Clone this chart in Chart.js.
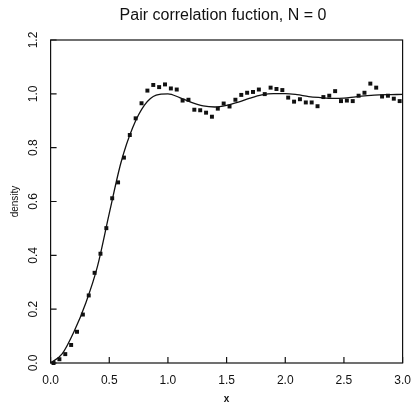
<!DOCTYPE html>
<html>
<head>
<meta charset="utf-8">
<script src="https://cdn.jsdelivr.net/npm/chart.js@4"></script>
<style>
  html, body { margin: 0; padding: 0; background: #fff; }
  #wrap { width: 412px; height: 403px; }
</style>
</head>
<body>
<div id="wrap"><canvas id="PairChart" width="412" height="403"></canvas></div>
<script>
// measured density, one square per 0.05 bin
var binX = [0.025, 0.075, 0.125, 0.175, 0.225, 0.275, 0.325, 0.375, 0.425, 0.475,
  0.525, 0.575, 0.625, 0.675, 0.725, 0.775, 0.825, 0.875, 0.925, 0.975,
  1.025, 1.075, 1.125, 1.175, 1.225, 1.275, 1.325, 1.375, 1.425, 1.475,
  1.525, 1.575, 1.625, 1.675, 1.725, 1.775, 1.825, 1.875, 1.925, 1.975,
  2.025, 2.075, 2.125, 2.175, 2.225, 2.275, 2.325, 2.375, 2.425, 2.475,
  2.525, 2.575, 2.625, 2.675, 2.725, 2.775, 2.825, 2.875, 2.925, 2.975];
var binDensity = [0.0, 0.014, 0.033, 0.067, 0.116, 0.18, 0.251, 0.335, 0.406, 0.501,
  0.612, 0.671, 0.763, 0.847, 0.909, 0.965, 1.012, 1.033, 1.025, 1.035,
  1.02, 1.016, 0.975, 0.978, 0.941, 0.939, 0.93, 0.915, 0.945, 0.964,
  0.953, 0.978, 0.996, 1.004, 1.007, 1.016, 0.999, 1.023, 1.018, 1.014,
  0.986, 0.971, 0.98, 0.968, 0.968, 0.954, 0.988, 0.993, 1.01, 0.973,
  0.975, 0.973, 0.993, 1.004, 1.038, 1.023, 0.99, 0.993, 0.982, 0.973];

// theory curve
var curveX = [0, 0.1, 0.2, 0.3, 0.4, 0.5, 0.6, 0.7, 0.8, 0.9, 1.0,
  1.1, 1.2, 1.3, 1.4, 1.5, 1.6, 1.7, 1.8, 1.9, 2.0,
  2.1, 2.2, 2.3, 2.4, 2.5, 2.6, 2.7, 2.8, 2.9, 3.0];
var curveY = [0, 0.035, 0.117, 0.223, 0.36, 0.556, 0.745, 0.875, 0.958, 0.995, 1.0,
  0.986, 0.968, 0.955, 0.951, 0.957, 0.969, 0.984, 0.996, 1.001, 1.001,
  0.997, 0.99, 0.986, 0.983, 0.984, 0.989, 0.993, 0.996, 0.997, 0.998];

var xTicks = [0, 0.5, 1.0, 1.5, 2.0, 2.5, 3.0];
var yTicks = [0, 0.2, 0.4, 0.6, 0.8, 1.0, 1.2];

var titleText = 'Pair correlation fuction, N = 0';
var fontName = '"Liberation Sans", Arial, Helvetica, sans-serif';
var ink = '#111';

function toPoints(xs, ys)
{
  let pts = [];
  for (let i = 0; i < xs.length; i++) pts.push({x: xs[i], y: ys[i]});
  return pts;
}

// frame, inward ticks and the title
var framePlugin = {
  id: 'frame',
  afterDraw(chart) {
    const ctx = chart.ctx;
    const a = chart.chartArea;
    const sx = chart.scales.x;
    const sy = chart.scales.y;
    ctx.save();
    ctx.strokeStyle = ink;
    ctx.lineWidth = 1.2;
    ctx.strokeRect(a.left, a.top, a.right - a.left, a.bottom - a.top);
    ctx.beginPath();
    xTicks.forEach(v => {
      let px = sx.getPixelForValue(v);
      ctx.moveTo(px, a.bottom);
      ctx.lineTo(px, a.bottom - 6);
    });
    yTicks.forEach(v => {
      let py = sy.getPixelForValue(v);
      ctx.moveTo(a.left, py);
      ctx.lineTo(a.left + 6, py);
    });
    ctx.stroke();
    ctx.fillStyle = ink;
    ctx.font = '16px ' + fontName;
    ctx.textAlign = 'center';
    ctx.textBaseline = 'middle';
    ctx.fillText(titleText, 223, 16);
    ctx.restore();
  }
};

new Chart('PairChart', {
  type: 'scatter',
  data: {
    datasets: [
      {
        data: toPoints(binX, binDensity),
        pointStyle: 'rect',
        pointRadius: 2.8,
        pointBorderWidth: 0,
        backgroundColor: ink,
        borderColor: ink,
        showLine: false,
        clip: false,
        order: 1
      },
      {
        data: toPoints(curveX, curveY),
        showLine: true,
        pointRadius: 0,
        borderColor: ink,
        borderWidth: 1.3,
        cubicInterpolationMode: 'monotone',
        fill: false,
        order: 2
      }
    ]
  },
  options: {
    responsive: false,
    animation: false,
    events: [],
    layout: { padding: { top: 40, left: 0, right: 9.4, bottom: 0 } },
    plugins: {
      legend: { display: false },
      title: { display: false },
      tooltip: { enabled: false }
    },
    scales: {
      x: {
        type: 'linear',
        min: 0,
        max: 3,
        afterBuildTicks: (s) => { s.ticks = xTicks.map(v => ({value: v})); },
        afterFit: (s) => { s.height = 40; s.paddingLeft = 0; s.paddingRight = 0; },
        grid: { display: false, drawTicks: false },
        border: { display: false },
        ticks: {
          padding: 10,
          autoSkip: false,
          maxRotation: 0,
          color: ink,
          font: { family: fontName, size: 12 },
          callback: (v) => Number(v).toFixed(1)
        },
        title: {
          display: true,
          text: 'x',
          color: ink,
          font: { family: fontName, size: 10, weight: 'bold', lineHeight: 0.8 },
          padding: { top: 0, bottom: 0 }
        }
      },
      y: {
        type: 'linear',
        min: 0,
        max: 1.2,
        afterBuildTicks: (s) => { s.ticks = yTicks.map(v => ({value: v})); },
        afterFit: (s) => { s.width = 50.6; s.paddingTop = 0; s.paddingBottom = 0; },
        grid: { display: false, drawTicks: false },
        border: { display: false },
        ticks: {
          padding: 9,
          autoSkip: false,
          minRotation: 90,
          maxRotation: 90,
          crossAlign: 'center',
          color: ink,
          font: { family: fontName, size: 12 },
          callback: (v) => Number(v).toFixed(1)
        },
        title: {
          display: true,
          text: 'density',
          color: ink,
          font: { family: fontName, size: 10, lineHeight: 1.2 },
          padding: { top: 9, bottom: 0 }
        }
      }
    }
  },
  plugins: [framePlugin]
});
</script>
</body>
</html>
